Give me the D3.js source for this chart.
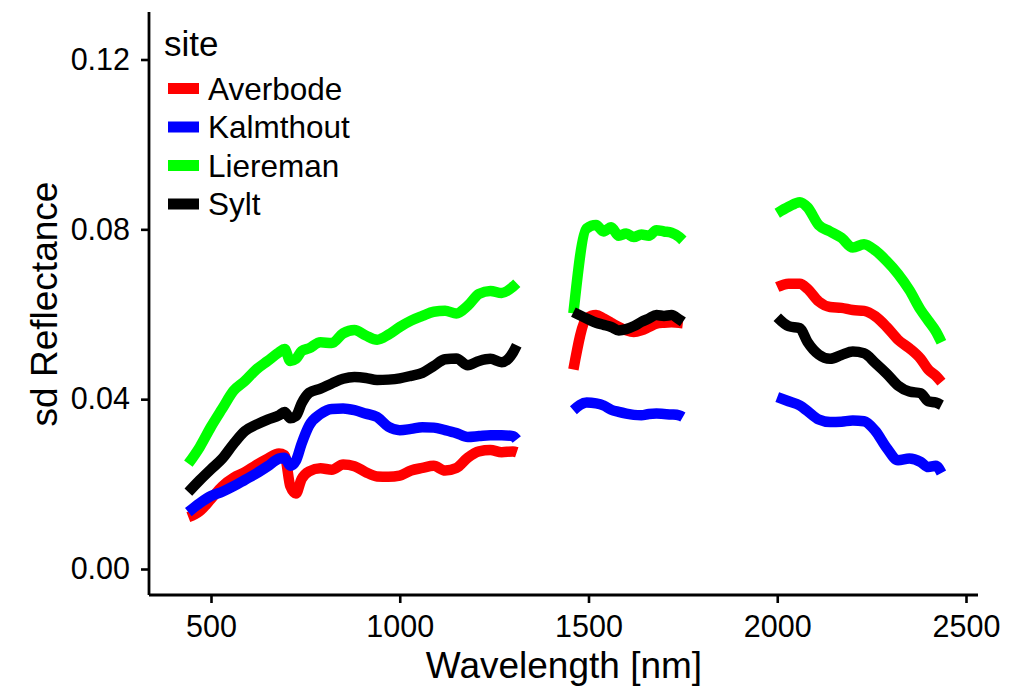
<!DOCTYPE html>
<html>
<head>
<meta charset="utf-8">
<script src="https://cdn.jsdelivr.net/npm/d3@7"></script>
<style>
  body { margin: 0; background: #fff; }
  text { font-family: "Liberation Sans", Arial, sans-serif; fill: #000; }
</style>
</head>
<body>
<script>
// wavelengths (nm); null entries break the line at the water absorption gaps
const wavelengths = [
  440, 470, 500, 530, 560, 590, 620, 650, 680, 695, 710, 725, 740, 760, 790, 820, 850,
  880, 910, 940, 970, 1000, 1030, 1060, 1090, 1120, 1150, 1180, 1210, 1240, 1270, 1300, 1310,
  1380,
  1460, 1495, 1520, 1540, 1560, 1580, 1600, 1620, 1640, 1660, 1680, 1700, 1720, 1740, 1750,
  1880,
  2000, 2030, 2060, 2080, 2110, 2140, 2170, 2200, 2230, 2260, 2290, 2320, 2350, 2380, 2400, 2420, 2435
];

const averbode = [
  0.0122, 0.0136, 0.0165, 0.0195, 0.0215, 0.0228, 0.0245, 0.026, 0.0272, 0.0268, 0.0195, 0.0178, 0.0212, 0.023, 0.0237, 0.0234, 0.0246,
  0.0242, 0.0228, 0.0218, 0.0217, 0.022, 0.0232, 0.0238, 0.0243, 0.0232, 0.0238, 0.0262, 0.0277, 0.028, 0.0275, 0.0277, 0.0275,
  null,
  0.047, 0.059, 0.0598, 0.059, 0.058, 0.057, 0.0562, 0.0558, 0.0562, 0.057, 0.0578, 0.058, 0.0581, 0.058, 0.0579,
  null,
  0.0664, 0.0672, 0.0672, 0.066, 0.063, 0.0617, 0.0615, 0.061, 0.0608, 0.0595, 0.057, 0.054, 0.052, 0.0495, 0.047, 0.0455, 0.044
];
const kalmthout = [
  0.0134, 0.0155, 0.0172, 0.0182, 0.0195, 0.021, 0.0225, 0.0242, 0.026, 0.0262, 0.0243, 0.0255, 0.0295, 0.0338, 0.0365, 0.0377, 0.0378,
  0.0374, 0.0366, 0.0358, 0.0335, 0.0327, 0.033, 0.0334, 0.0333, 0.0327, 0.032, 0.0311, 0.0313, 0.0315, 0.0315, 0.0313, 0.0305,
  null,
  0.0374, 0.0392, 0.039, 0.0385, 0.0375, 0.037, 0.0366, 0.0363, 0.0362, 0.0365, 0.0366, 0.0365, 0.0364, 0.0362, 0.0358,
  null,
  0.0405, 0.0395, 0.0385, 0.0372, 0.0352, 0.0346, 0.0347, 0.035, 0.0348, 0.0325, 0.0285, 0.0256, 0.026, 0.0252, 0.024, 0.0243, 0.0226
];
const liereman = [
  0.0248, 0.0287, 0.0335, 0.0378, 0.042, 0.0443, 0.047, 0.049, 0.051, 0.0518, 0.049, 0.0495, 0.0513, 0.052, 0.0534, 0.0532, 0.0555,
  0.0563, 0.055, 0.054, 0.0552, 0.057, 0.0585, 0.0596, 0.0606, 0.0608, 0.0602, 0.062, 0.0648, 0.0655, 0.065, 0.0665, 0.0673,
  null,
  0.0602, 0.0802, 0.081, 0.0795, 0.0805, 0.0785, 0.079, 0.0782, 0.0788, 0.0785, 0.0798, 0.0795, 0.0792, 0.0782, 0.0774,
  null,
  0.0838, 0.0853, 0.0864, 0.0852, 0.081, 0.0795, 0.078, 0.0757, 0.0765, 0.075, 0.0725, 0.0695, 0.0657, 0.061, 0.0585, 0.056, 0.0534
];
const sylt = [
  0.0181, 0.0209, 0.0235, 0.026, 0.0295, 0.0325, 0.034, 0.0352, 0.0362, 0.037, 0.0355, 0.036, 0.039, 0.0415, 0.0425, 0.0437, 0.0448,
  0.0452, 0.045, 0.0445, 0.0446, 0.0449, 0.0455, 0.0462, 0.0478, 0.0494, 0.0496, 0.048, 0.049, 0.0495, 0.0487, 0.051, 0.0527,
  null,
  0.0605, 0.059, 0.058, 0.0575, 0.057, 0.0562, 0.0565, 0.0572, 0.0582, 0.059, 0.0598, 0.0596, 0.0598, 0.0588, 0.0582,
  null,
  0.0593, 0.0572, 0.0567, 0.0535, 0.0505, 0.0495, 0.0504, 0.0512, 0.0508, 0.0485, 0.046, 0.0432, 0.0418, 0.0414, 0.0395, 0.0392, 0.0386
];

const sites = ['Averbode', 'Kalmthout', 'Liereman', 'Sylt'];
const siteValues = [averbode, kalmthout, liereman, sylt];
const siteColors = ['#ff0000', '#0000ff', '#00ff00', '#000000'];
const xTicks = [500, 1000, 1500, 2000, 2500];
const yTicks = [0, 0.04, 0.08, 0.12];

const width = 1009;
const height = 690;
const axisLeft = 149;
const axisBottom = 595;
const axisTop = 12;
const axisRight = 978;

const svg = d3.select('body')
  .append('svg')
  .attr('width', width)
  .attr('height', height);

const x = d3.scaleLinear().domain([500, 2500]).range([211, 966]);
const y = d3.scaleLinear().domain([0, 0.12]).range([569, 59.5]);

// lines
const line = d3.line()
  .defined((d) => d[1] != null)
  .curve(d3.curveMonotoneX)
  .x((d) => x(d[0]))
  .y((d) => y(d[1]));

svg.append('g')
  .selectAll('path')
  .data(siteValues.map((vals, i) => ({ i, pts: wavelengths.map((w, k) => [w, vals[k]]) })))
  .join('path')
  .attr('fill', 'none')
  .attr('stroke', (d) => siteColors[d.i])
  .attr('stroke-width', 10.5)
  .attr('stroke-linejoin', 'round')
  .attr('stroke-linecap', 'butt')
  .attr('d', (d) => line(d.pts));

// x axis
const xAxis = svg.append('g')
  .attr('transform', `translate(0,${axisBottom})`)
  .call(d3.axisBottom(x).tickValues(xTicks).tickSize(8).tickPadding(12).tickFormat(d3.format('d')));
xAxis.select('.domain').attr('d', `M${axisLeft},0H${axisRight}`);

// y axis
const yAxis = svg.append('g')
  .attr('transform', `translate(${axisLeft},0)`)
  .call(d3.axisLeft(y).tickValues(yTicks).tickSize(8).tickPadding(11).tickFormat(d3.format('.2f')));
yAxis.select('.domain').attr('d', `M0,${axisTop}V${axisBottom}`);

svg.selectAll('.tick line').attr('stroke', '#000').attr('stroke-width', 2.6);
svg.selectAll('.domain').attr('stroke', '#000').attr('stroke-width', 2.8);
svg.selectAll('.tick text')
  .style('font-family', '"Liberation Sans", Arial, sans-serif')
  .style('font-size', '30.5px')
  .attr('fill', '#000');

// axis titles
svg.append('text')
  .attr('x', 564)
  .attr('y', 678)
  .attr('text-anchor', 'middle')
  .style('font-size', '37px')
  .text('Wavelength [nm]');

svg.append('text')
  .attr('transform', 'translate(57,304) rotate(-90)')
  .attr('text-anchor', 'middle')
  .style('font-size', '37px')
  .text('sd Reflectance');

// legend
const legend = svg.append('g');
legend.append('text')
  .attr('x', 164)
  .attr('y', 56)
  .style('font-size', '35px')
  .text('site');

const rows = legend.selectAll('g.row')
  .data(sites)
  .join('g')
  .attr('class', 'row')
  .attr('transform', (d, i) => `translate(0,${88.5 + i * 38.5})`);
rows.append('rect')
  .attr('x', 168)
  .attr('y', -5.5)
  .attr('width', 31)
  .attr('height', 11)
  .attr('fill', (d, i) => siteColors[i]);
rows.append('text')
  .attr('x', 208)
  .attr('y', 11)
  .style('font-size', '31.5px')
  .text((d) => d);
</script>
</body>
</html>
